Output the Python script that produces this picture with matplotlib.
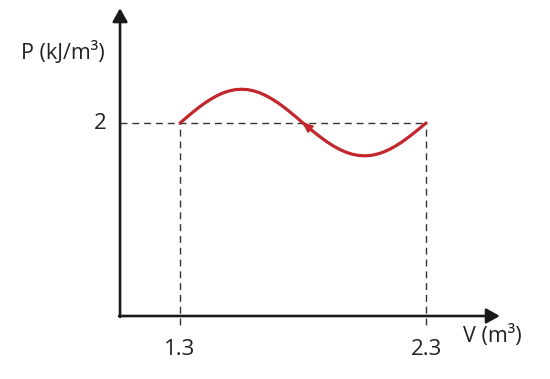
import matplotlib.pyplot as plt

# P-V cycle
vol = [1.300, 1.325, 1.350, 1.375, 1.400, 1.425, 1.450, 1.475, 1.500, 1.525,
       1.550, 1.575, 1.600, 1.625, 1.650, 1.675, 1.700, 1.725, 1.750, 1.775,
       1.800, 1.825, 1.850, 1.875, 1.900, 1.925, 1.950, 1.975, 2.000, 2.025,
       2.050, 2.075, 2.100, 2.125, 2.150, 2.175, 2.200, 2.225, 2.250, 2.275,
       2.300]
pres = [2.000, 2.055, 2.108, 2.159, 2.206, 2.247, 2.283, 2.312, 2.333, 2.346,
        2.350, 2.346, 2.333, 2.312, 2.283, 2.247, 2.206, 2.159, 2.108, 2.055,
        2.000, 1.947, 1.895, 1.846, 1.800, 1.760, 1.725, 1.697, 1.677, 1.664,
        1.660, 1.664, 1.677, 1.697, 1.725, 1.760, 1.800, 1.846, 1.895, 1.947,
        2.000]
x_ticks = [1.3, 2.3]
x_tick_labels = ["1.3", "2.3"]
y_ticks = [2]
y_tick_labels = ["2"]

red = "#c1272d"
dash_col = "#333333"
txt_col = "#222222"
font = ["Open Sans", "DejaVu Sans"]

fig = plt.figure(figsize=(5.5, 3.79), dpi=100)
ax = fig.add_axes([0, 0, 1, 1])
ax.set_xlim(0.568, 2.804)
ax.set_ylim(-0.653, 3.275)
ax.axis("off")

x0 = 1.056
# axes with arrow heads
ax.annotate("", xy=(2.60, 0), xytext=(x0 - 0.004, 0),
            arrowprops=dict(arrowstyle="-|>,head_length=0.8,head_width=0.45",
                            color="#1a1a1a", lw=1.9, shrinkA=0, shrinkB=0))
ax.annotate("", xy=(x0, 3.19), xytext=(x0, -0.01),
            arrowprops=dict(arrowstyle="-|>,head_length=0.8,head_width=0.45",
                            color="#1a1a1a", lw=1.9, shrinkA=0, shrinkB=0))

# dashed guide lines
ax.plot([x0, x_ticks[1]], [y_ticks[0], y_ticks[0]], ls=(0, (5, 3.5)), color=dash_col, lw=1)
for xt in x_ticks:
    ax.plot([xt, xt], [-0.09, y_ticks[0]], ls=(0, (5, 3.5)), color=dash_col, lw=1)

# the curve
ax.plot(vol, pres, color=red, lw=2.3, solid_capstyle="round", solid_joinstyle="round")
ax.annotate("", xy=(vol[20] - 0.006, pres[20] + 0.014), xytext=(vol[22], pres[22]),
            arrowprops=dict(arrowstyle="-|>,head_length=0.9,head_width=0.35",
                            color=red, lw=0, shrinkA=0, shrinkB=0))

# labels
for xt, lab in zip(x_ticks, x_tick_labels):
    ax.text(xt, -0.35, lab, ha="center", va="center", fontsize=16, family=font, color=txt_col)
for yt, lab in zip(y_ticks, y_tick_labels):
    ax.text(1.0, yt, lab, ha="right", va="center", fontsize=16, family=font, color=txt_col)
ax.text(2.45, -0.21, "V (m³)", ha="left", va="center", fontsize=15.5, family=font, color=txt_col)
ax.text(0.655, 2.73, "P (kJ/m³)", ha="left", va="center", fontsize=15.5, family=font, color=txt_col)

fig.savefig("out.png", dpi=100)
